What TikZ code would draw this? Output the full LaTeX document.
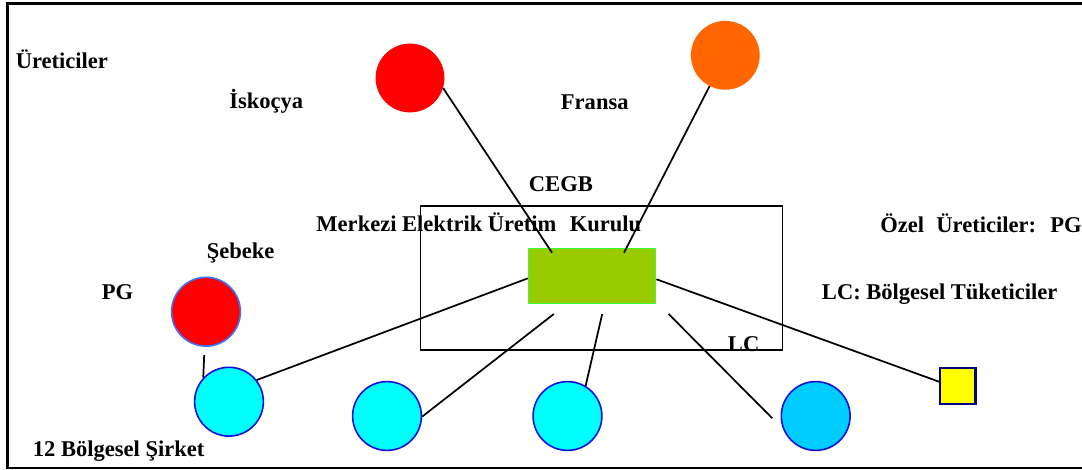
\documentclass[tikz,border=0pt]{standalone}
\usepackage{fontspec}
\setmainfont{Liberation Serif}
\usetikzlibrary{calc}
\definecolor{cRed}{HTML}{FF0000}
\definecolor{cOrange}{HTML}{FF6600}
\definecolor{cCyan}{HTML}{00FFFF}
\definecolor{cSky}{HTML}{00CCFF}
\definecolor{cBlue}{HTML}{1010E0}
\definecolor{cLightBlue}{HTML}{4070FF}
\definecolor{cOlive}{HTML}{99CC00}
\definecolor{cLime}{HTML}{33FF33}
\definecolor{cYellow}{HTML}{FFFF00}
\definecolor{cNavy}{HTML}{000080}
\tikzset{
  lbl/.style={anchor=base west, inner sep=0pt, font=\fontsize{16.9pt}{19pt}\selectfont\bfseries},
  disc/.style={circle, minimum size=51.6pt, inner sep=0pt},
  region/.style={disc, fill=cCyan, draw=cBlue, line width=1.2pt},
  conn/.style={line width=1.3pt, black},
}
\begin{document}
\begin{tikzpicture}[x=0.75pt, y=-0.75pt]
\useasboundingbox (0,0) rectangle (1082,470);
% frame
\draw[line width=1.9pt] (1082,3.3) -- (7.6,3.3) -- (7.6,468) -- (1082,468);
% central box
\node[draw, line width=1.4pt, minimum width=271.5pt, minimum height=108pt, inner sep=0pt] (box) at (601.5,278.2) {};
% generators
\node[disc, fill=cRed] (isk) at (410,78) {};
\node[disc, fill=cOrange] (fra) at (725.3,55.3) {};
% central green unit
\node[fill=cOlive, draw=cLime, line width=1.1pt, minimum width=95.3pt, minimum height=41.2pt, inner sep=0pt] (cegb) at (592.2,275.8) {};
% PG circle
\node[disc, fill=cRed, draw=cLightBlue, line width=1.2pt] (pg) at (206,311.7) {};
% regional companies
\node[region] (r1) at (229,401.7) {};
\node[region] (r2) at (387,416) {};
\node[region] (r3) at (567.5,416) {};
\node[disc, fill=cSky, draw=cBlue, line width=1.2pt] (r4) at (815.7,416) {};
% private generator square
\node[fill=cYellow, draw=cNavy, line width=1.6pt, minimum size=26.5pt, inner sep=0pt] (sq) at (957.8,386) {};
% connector end points
\coordinate (gA) at (552,252.7);
\coordinate (gB) at (624,252.7);
\coordinate (gC) at (553.8,314);
\coordinate (gD) at (602.2,314);
\coordinate (gE) at (668.6,314);
\coordinate (lcEnd) at (772.3,418.3);
\coordinate (pgLow) at (204.2,355);
% connectors
\draw[conn] (isk.-17.5) -- (gA);
\draw[conn] (fra.243) -- (gB);
\draw[conn] (r1.38) -- ($(cegb.west)+(0,2.5)$);
\draw[conn] (gC) -- (r2.-1);
\draw[conn] (gD) -- (r3.59);
\draw[conn] (gE) -- (lcEnd);
\draw[conn] ($(cegb.east)+(0,3.5)$) -- ($(sq.west)+(0,-4.3)$);
\draw[conn] (pgLow) -- (r1.137);
% labels
\node[lbl] (tUret) at (15.5,68.3) {Üreticiler};
\node[lbl] (tIsk) at (229,108.5) {İskoçya};
\node[lbl] (tFra) at (560.7,109.5) {Fransa};
\node[lbl] (tCegb) at (528.7,191.7) {CEGB};
\node[lbl] (tMerk) at (316.2,231.7) {Merkezi Elektrik Üretim\hspace{0.35em} Kurulu};
\node[lbl] (tOzel) at (880,233) {Özel\hspace{0.3em} Üreticiler:\hspace{0.3em} PG};
\node[lbl] (tSeb) at (206.6,258.5) {Şebeke};
\node[lbl] (tPG) at (101.6,300) {PG};
\node[lbl] (tLCB) at (821.7,300) {LC: Bölgesel Tüketiciler};
\node[lbl] (tLC) at (727.7,352) {LC};
\node[lbl] (tBolg) at (32.7,456) {12 Bölgesel Şirket};
\end{tikzpicture}
\end{document}
